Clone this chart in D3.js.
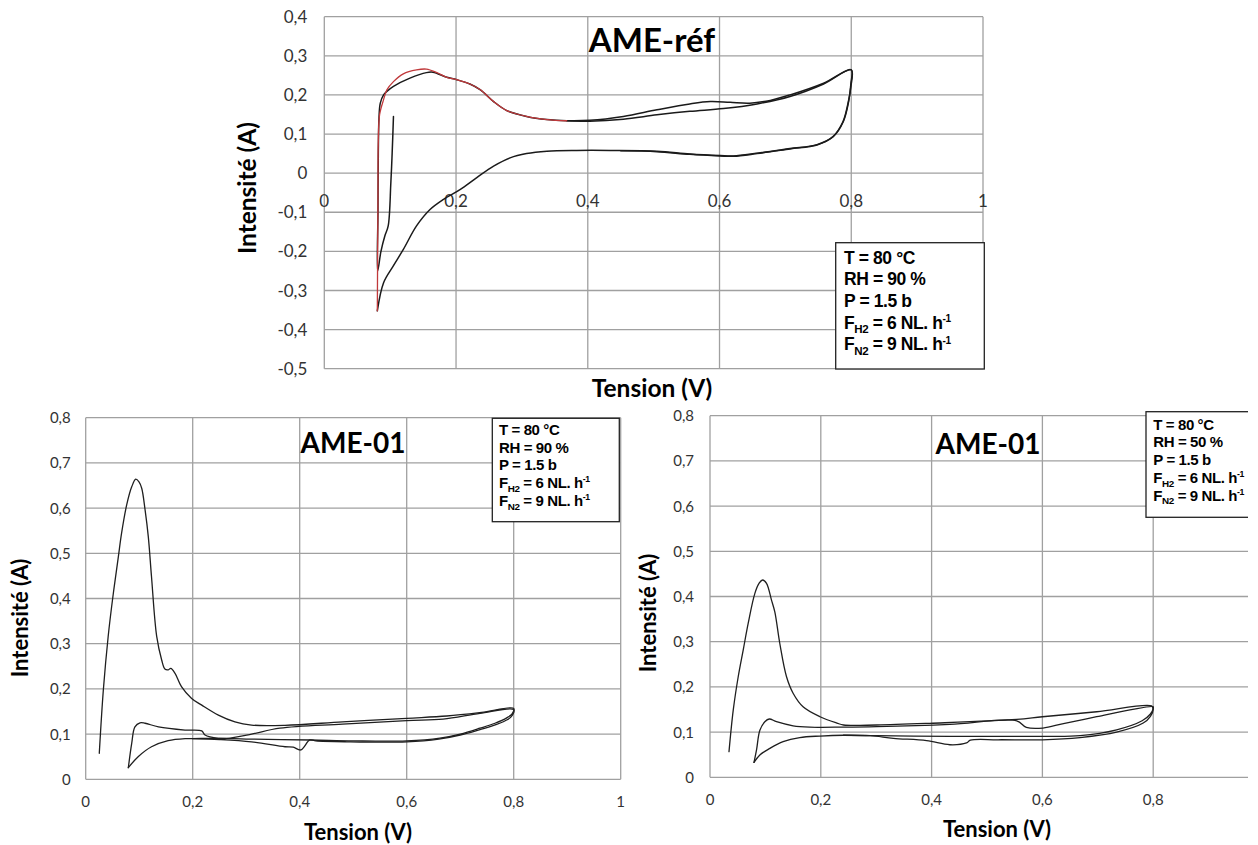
<!DOCTYPE html>
<html><head><meta charset="utf-8">
<script src="https://cdn.jsdelivr.net/npm/d3@7"></script>
<style>
html,body{margin:0;padding:0;background:#fff;}
svg{display:block;}
</style></head>
<body>
<svg id="c" width="1258" height="845"></svg>
<script>
// ---------------- DATA ----------------
const refTicksX = [0, 0.2, 0.4, 0.6, 0.8, 1];
const refTicksY = [-0.5, -0.4, -0.3, -0.2, -0.1, 0, 0.1, 0.2, 0.3, 0.4];
const ameTicksX = [0, 0.2, 0.4, 0.6, 0.8, 1];
const ameTicksY = [0, 0.1, 0.2, 0.3, 0.4, 0.5, 0.6, 0.7, 0.8];

const refTitle = "AME-réf";
const ame90Title = "AME-01";
const ame50Title = "AME-01";
const xAxisTitle = "Tension (V)";
const yAxisTitle = "Intensité (A)";

const refConditions = [["T = 80 °C"], ["RH = 90 %"], ["P = 1.5 b"], ["F", "H2", " = 6 NL. h", "-1"], ["F", "N2", " = 9 NL. h", "-1"]];
const ame90Conditions = [["T = 80 °C"], ["RH = 90 %"], ["P = 1.5 b"], ["F", "H2", " = 6 NL. h", "-1"], ["F", "N2", " = 9 NL. h", "-1"]];
const ame50Conditions = [["T = 80 °C"], ["RH = 50 %"], ["P = 1.5 b"], ["F", "H2", " = 6 NL. h", "-1"], ["F", "N2", " = 9 NL. h", "-1"]];

// AME-réf : cycle 1 (black)
const refCycle1 = [[0.105,0.145],[0.103,0.05],[0.101,-0.025],[0.097,-0.135],[0.092,-0.16],[0.086,-0.2],[0.081,-0.25],
 [0.0815,-0.1],[0.082,0.05],[0.083,0.14],[0.085,0.179],[0.09,0.2],[0.095,0.209],[0.105,0.222],[0.13,0.243],[0.155,0.257],
 [0.165,0.258],[0.186,0.245],[0.201,0.239],[0.221,0.228],[0.237,0.213],[0.257,0.183],[0.277,0.16],[0.307,0.145],[0.338,0.137],
 [0.368,0.134],[0.403,0.135],[0.454,0.145],[0.505,0.162],[0.555,0.177],[0.586,0.183],[0.616,0.181],[0.646,0.179],[0.677,0.186],
 [0.707,0.2],[0.758,0.23],[0.8,0.264],
 [0.7995,0.23],[0.796,0.183],[0.788,0.132],[0.773,0.094],[0.748,0.073],[0.707,0.063],[0.657,0.051],[0.621,0.044],[0.601,0.045],
 [0.555,0.049],[0.505,0.056],[0.434,0.058],[0.383,0.058],[0.338,0.056],[0.307,0.05],[0.282,0.039],[0.257,0.018],[0.231,-0.012],
 [0.206,-0.042],[0.181,-0.067],[0.1605,-0.093],[0.14,-0.135],[0.12,-0.195],[0.1048,-0.237],[0.09,-0.28],[0.0805,-0.352]];
// AME-réf : cycle 2, part drawn in red
const refCycle2Red = [[0.0805,-0.352],[0.081,-0.2],[0.0815,-0.05],[0.082,0.08],[0.084,0.15],[0.09,0.188],[0.095,0.213],[0.105,0.234],
 [0.12,0.254],[0.14,0.264],[0.155,0.266],[0.171,0.257],[0.186,0.245],[0.201,0.239],[0.221,0.228],[0.237,0.213],[0.257,0.183],
 [0.277,0.16],[0.307,0.145],[0.338,0.137],[0.368,0.134]];
// AME-réf : cycle 2, remaining part (black)
const refCycle2 = [[0.368,0.134],[0.403,0.133],[0.454,0.138],[0.505,0.149],[0.555,0.158],[0.606,0.165],[0.657,0.177],[0.707,0.196],
 [0.758,0.228],[0.8,0.264],[0.7993,0.22],[0.795,0.178],[0.787,0.13],[0.772,0.093],[0.748,0.072],[0.707,0.062],[0.657,0.05],
 [0.621,0.043],[0.601,0.044],[0.555,0.048],[0.505,0.055],[0.45,0.057]];

// AME-01, RH 90 %
const ame90CycleA = [[0.0254,0.0575],[0.033,0.198],[0.042,0.316],[0.0516,0.411],[0.061,0.492],[0.067,0.544],[0.0766,0.607],
 [0.086,0.647],[0.0935,0.664],[0.0996,0.658],[0.1047,0.644],[0.111,0.596],[0.117,0.537],[0.123,0.448],[0.1327,0.316],[0.142,0.264],
 [0.148,0.244],[0.154,0.242],[0.159,0.2455],[0.167,0.2345],[0.179,0.205],[0.198,0.179],[0.217,0.164],[0.248,0.142],[0.279,0.127],
 [0.31,0.12],[0.3725,0.1195],[0.48,0.127],[0.6,0.135],[0.675,0.14],[0.74,0.148],[0.8,0.157],
 [0.797,0.145],[0.787,0.136],[0.765,0.124],[0.737,0.113],[0.7,0.1],[0.662,0.091],[0.6,0.085],[0.5,0.085],[0.42,0.087],[0.3,0.089],
 [0.25,0.0907],[0.2,0.09],[0.186,0.09],[0.154,0.0855],[0.123,0.072],[0.098,0.05],[0.0797,0.0257]];
const ame90CycleB = [[0.0797,0.0257],[0.086,0.0796],[0.092,0.116],[0.1015,0.125],[0.111,0.124],[0.136,0.116],[0.1856,0.109],
 [0.217,0.107],[0.223,0.098],[0.248,0.0907],[0.264,0.0907],[0.31,0.1],[0.363,0.113],[0.48,0.122],[0.6,0.13],[0.668,0.133],
 [0.737,0.146],[0.8,0.154],
 [0.795,0.138],[0.785,0.13],[0.76,0.118],[0.737,0.11],[0.7,0.098],[0.66,0.089],[0.6,0.083],[0.488,0.083],[0.43,0.085],[0.419,0.087],
 [0.402,0.065],[0.388,0.071],[0.3725,0.072],[0.31,0.083],[0.25,0.088],[0.2,0.09]];

// AME-01, RH 50 %
const ame50CycleA = [[0.0343,0.0567],[0.042,0.149],[0.051,0.223],[0.06,0.282],[0.069,0.341],[0.081,0.407],[0.089,0.43],
 [0.095,0.4365],[0.102,0.429],[0.111,0.392],[0.117,0.366],[0.126,0.296],[0.138,0.223],[0.15,0.186],[0.168,0.156],[0.1986,0.134],
 [0.229,0.12],[0.241,0.1157],[0.301,0.1157],[0.397,0.1195],[0.5536,0.128],[0.6,0.134],[0.698,0.145],[0.797,0.158],
 [0.8,0.15],[0.795,0.135],[0.782,0.12],[0.734,0.1],[0.668,0.088],[0.6,0.083],[0.52,0.083],[0.47,0.082],[0.463,0.076],[0.433,0.072],
 [0.391,0.081],[0.331,0.0863],[0.289,0.092],[0.241,0.093],[0.1986,0.0913],[0.162,0.088],[0.132,0.079],[0.108,0.064],[0.09,0.0494],
 [0.0794,0.033]];
const ame50CycleB = [[0.0794,0.033],[0.084,0.0605],[0.09,0.104],[0.099,0.123],[0.107,0.129],[0.12,0.123],[0.15,0.114],[0.18,0.111],
 [0.241,0.111],[0.301,0.112],[0.433,0.117],[0.5536,0.125],[0.571,0.1105],[0.601,0.109],[0.638,0.119],[0.698,0.134],[0.758,0.149],
 [0.8,0.156],
 [0.8,0.152],[0.795,0.14],[0.78,0.125],[0.734,0.105],[0.668,0.092],[0.6,0.0905],[0.5,0.0905],[0.433,0.0905],[0.3,0.092],[0.241,0.093]];

// ---------------- DRAWING ----------------
const svg = d3.select("#c");
const fmt = v => {
  if (Math.abs(v) < 1e-9) return "0";
  if (Number.isInteger(v)) return String(v);
  return v.toFixed(1).replace(".", ",");
};
const GRID = "#a0a0a0";
const TXT = "#333";
const TICKFONT = "Lato, 'Open Sans', sans-serif";
const BOLDFONT = "Lato, 'Open Sans', sans-serif";
const LEGFONT = "'Liberation Sans', Arial, sans-serif";

let clipId = 0;
function drawChart(cfg) {
  const g = svg.append("g");
  const limit = cfg.clipRight || 1e9;
  if (cfg.clipRight) {
    const id = "clip" + (clipId++);
    svg.append("defs").append("clipPath").attr("id", id)
      .append("rect").attr("x", 0).attr("y", 0).attr("width", cfg.clipRight).attr("height", 845);
    g.attr("clip-path", `url(#${id})`);
  }
  const x = d3.scaleLinear().domain([cfg.xTicks[0], cfg.xTicks[cfg.xTicks.length - 1]]).range([cfg.left, cfg.right]);
  const y = d3.scaleLinear().domain([cfg.yTicks[0], cfg.yTicks[cfg.yTicks.length - 1]]).range([cfg.bottom, cfg.top]);

  // grid
  g.append("g").selectAll("line.h").data(cfg.yTicks).join("line")
    .attr("x1", x(cfg.xTicks[0])).attr("x2", x(cfg.xTicks[cfg.xTicks.length - 1]))
    .attr("y1", d => y(d)).attr("y2", d => y(d))
    .attr("stroke", GRID).attr("stroke-width", 1.3);
  g.append("g").selectAll("line.v").data(cfg.xTicks).join("line")
    .attr("y1", y(cfg.yTicks[0])).attr("y2", y(cfg.yTicks[cfg.yTicks.length - 1]))
    .attr("x1", d => x(d)).attr("x2", d => x(d))
    .attr("stroke", GRID).attr("stroke-width", 1.3);

  // y tick labels
  g.append("g").selectAll("text").data(cfg.yTicks).join("text")
    .attr("x", cfg.left - cfg.yPad).attr("y", d => y(d)).attr("dy", "0.36em")
    .attr("text-anchor", "end").attr("font-family", TICKFONT).attr("font-size", cfg.tickSize)
    .attr("fill", TXT).text(fmt);
  // x tick labels (only those inside the visible area)
  const xBase = cfg.xLabelAtZero ? y(0) + cfg.xPad : cfg.bottom + cfg.xPad;
  g.append("g").selectAll("text").data(cfg.xTicks.filter(d => x(d) + 8 < limit)).join("text")
    .attr("x", d => x(d)).attr("y", xBase)
    .attr("text-anchor", "middle").attr("font-family", TICKFONT).attr("font-size", cfg.tickSize)
    .attr("fill", TXT).text(fmt);

  // curves
  const line = d3.line().x(d => x(d[0])).y(d => y(d[1])).curve(d3.curveCatmullRom.alpha(0.5));
  cfg.series.forEach(s => {
    g.append("path").attr("d", line(s.data)).attr("fill", "none")
      .attr("stroke", s.color).attr("stroke-width", s.width || 1.4)
      .attr("stroke-linejoin", "round").attr("stroke-linecap", "round");
  });

  // title
  g.append("text").attr("x", cfg.titleX).attr("y", cfg.titleY).attr("text-anchor", "middle")
    .attr("font-family", BOLDFONT).attr("font-weight", 700).attr("font-size", cfg.titleSize)
    .attr("fill", "#000").text(cfg.title);

  // axis titles
  g.append("text").attr("x", cfg.xTitleX).attr("y", cfg.xTitleY).attr("text-anchor", "middle")
    .attr("font-family", BOLDFONT).attr("font-weight", 700).attr("font-size", cfg.axisTitleSize)
    .attr("fill", "#000").text(xAxisTitle);
  g.append("text").attr("transform", `translate(${cfg.yTitleX},${cfg.yTitleY}) rotate(-90)`)
    .attr("text-anchor", "middle").attr("dy", "0.35em")
    .attr("font-family", BOLDFONT).attr("font-weight", 700).attr("font-size", cfg.axisTitleSize)
    .attr("fill", "#000").text(yAxisTitle);

  // legend box
  const L = cfg.legend;
  g.append("rect").attr("x", L.x).attr("y", L.y).attr("width", L.w).attr("height", L.h)
    .attr("fill", "#fff").attr("stroke", "#222").attr("stroke-width", 1.3);
  const lt = g.append("g").attr("font-family", LEGFONT).attr("font-weight", 700)
    .attr("font-size", L.fs).attr("fill", "#000");
  L.lines.forEach((parts, i) => {
    const t = lt.append("text").attr("x", L.tx).attr("y", L.ty + i * L.dy).attr("letter-spacing", L.ls);
    if (parts.length === 1) { t.text(parts[0]); return; }
    t.append("tspan").text(parts[0]);
    t.append("tspan").attr("font-size", L.fs * 0.66).attr("dy", L.fs * 0.25).text(parts[1]);
    t.append("tspan").attr("dy", -L.fs * 0.25).text(parts[2]);
    t.append("tspan").attr("font-size", L.fs * 0.58).attr("dy", -L.fs * 0.38).text(parts[3]);
  });
}

drawChart({
  left: 324.3, right: 983, top: 16.7, bottom: 368.7,
  xTicks: refTicksX, yTicks: refTicksY,
  yPad: 17, xPad: 34, xLabelAtZero: true, tickSize: 17,
  title: refTitle, titleX: 652, titleY: 52, titleSize: 33,
  xTitleX: 652, xTitleY: 397, yTitleX: 247, yTitleY: 188, axisTitleSize: 24.5,
  series: [
    {data: refCycle1, color: "#1a1a1a", width: 1.5},
    {data: refCycle2, color: "#1a1a1a", width: 1.5},
    {data: refCycle2Red, color: "#c0393b", width: 1.3}
  ],
  legend: {x: 835.7, y: 242.7, w: 148.6, h: 126.3, tx: 844, ty: 263.5, dy: 21.7, fs: 17.5, ls: -0.4,
    lines: refConditions}
});

drawChart({
  left: 85.7, right: 620.7, top: 417.7, bottom: 779.3,
  xTicks: ameTicksX, yTicks: ameTicksY,
  yPad: 15, xPad: 27.5, xLabelAtZero: false, tickSize: 15,
  title: ame90Title, titleX: 353, titleY: 453, titleSize: 28,
  xTitleX: 358, xTitleY: 840, yTitleX: 20, yTitleY: 618, axisTitleSize: 22,
  series: [
    {data: ame90CycleA, color: "#1f1f1f", width: 1.3},
    {data: ame90CycleB, color: "#1f1f1f", width: 1.3}
  ],
  legend: {x: 492.3, y: 418.3, w: 127, h: 103.4, tx: 499, ty: 435, dy: 17.7, fs: 15, ls: -0.4,
    lines: ame90Conditions}
});

drawChart({
  left: 710, right: 1264, top: 415.7, bottom: 777.3,
  xTicks: ameTicksX, yTicks: ameTicksY,
  yPad: 16, xPad: 27.5, xLabelAtZero: false, tickSize: 15,
  title: ame50Title, titleX: 988, titleY: 454, titleSize: 28,
  xTitleX: 997, xTitleY: 837, yTitleX: 648, yTitleY: 613, axisTitleSize: 22,
  clipRight: 1248,
  series: [
    {data: ame50CycleA, color: "#1f1f1f", width: 1.3},
    {data: ame50CycleB, color: "#1f1f1f", width: 1.3}
  ],
  legend: {x: 1146, y: 411.7, w: 120, h: 105.6, tx: 1153.3, ty: 429.5, dy: 17.8, fs: 15, ls: -0.4,
    lines: ame50Conditions}
});
</script>
</body></html>
